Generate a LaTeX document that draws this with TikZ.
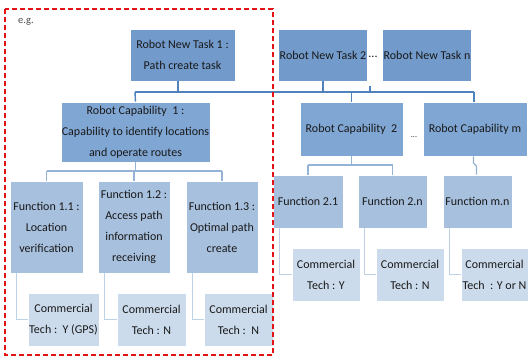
\documentclass[tikz,border=0pt]{standalone}
\usepackage{fontspec}
\setmainfont{Carlito}
\definecolor{taskc}{RGB}{114,155,204}
\definecolor{capc}{RGB}{128,166,212}
\definecolor{func}{RGB}{167,192,222}
\definecolor{comc}{RGB}{204,219,236}
\definecolor{line1}{RGB}{79,129,189}
\definecolor{line2}{RGB}{149,179,215}
\definecolor{line3}{RGB}{190,208,230}
\definecolor{egred}{rgb}{0.9,0.08,0.08}
\begin{document}
\begin{tikzpicture}[x=1pt,y=-1pt,
  every node/.style={font=\fontsize{12}{21}\selectfont, text=black!90, align=center, inner sep=1pt},
  base/.style={rectangle, draw=white, line width=0.6pt},
  taskbox/.style={base, fill=taskc},
  capbox/.style={base, fill=capc},
  funbox/.style={base, fill=func},
  combox/.style={base, fill=comc},
  l1/.style={draw=line1, line width=1.4pt},
  l2/.style={draw=line2, line width=1.4pt},
  l3/.style={draw=line3, line width=1.4pt},
  redbox/.style={color=egred, dash pattern=on 5pt off 3pt, line width=1.2pt}
]
\useasboundingbox (0,0) rectangle (528,357);
\fill[white] (0,0) rectangle (528,357);

\coordinate (busL) at (135,92);
\coordinate (busR) at (474,92);
\coordinate (dotsTop) at (370,86);

% Tasks
\node[taskbox, minimum width=105, minimum height=52] (t1) at (182.5,55) {Robot New Task 1 :\\Path create task};
\node[taskbox, minimum width=88, minimum height=52] (t2) at (323,55) {Robot New Task 2};
\node[inner sep=0pt] (tdots) at (373,57) {...};
\node[taskbox, minimum width=88, minimum height=52] (tn) at (427,55) {Robot New Task n};

% Capabilities
\node[capbox, minimum width=147, minimum height=60] (c1) at (135.5,132) {Robot Capability\ \ 1 :\\Capability to identify locations\\and operate routes};
\node[capbox, minimum width=103, minimum height=54] (c2) at (351.5,129) {Robot Capability\ \ 2};
\node[inner sep=0pt, font=\fontsize{8}{10}\selectfont] (cdots) at (414,137) {...};
\node[capbox, minimum width=104, minimum height=54] (cm) at (475,129) {Robot Capability m};

% Functions
\node[funbox, minimum width=73, minimum height=92] (f11) at (46.5,227) {Function 1.1 :\\Location\\verification};
\node[funbox, minimum width=72, minimum height=92] (f12) at (134,227) {Function 1.2 :\\Access path\\information\\receiving};
\node[funbox, minimum width=72, minimum height=92] (f13) at (222,227) {Function 1.3 :\\Optimal path\\create};
\node[funbox, minimum width=70, minimum height=53] (f21) at (308,201.5) {Function 2.1};
\node[funbox, minimum width=69, minimum height=53] (f2n) at (392.5,201.5) {Function 2.n};
\node[funbox, minimum width=69, minimum height=53] (fmn) at (477.5,201.5) {Function m.n};

% Commercial tech
\node[combox, minimum width=69, minimum height=53] (k11) at (63.5,319.5) {Commercial\\Tech :\ \ Y (GPS)};
\node[combox, minimum width=69, minimum height=53] (k12) at (151.5,319.5) {Commercial\\Tech : N};
\node[combox, minimum width=69, minimum height=53] (k13) at (238.5,319.5) {Commercial\\Tech :\ \ N};
\node[combox, minimum width=68, minimum height=53] (k21) at (326,274.5) {Commercial\\Tech : Y};
\node[combox, minimum width=68, minimum height=53] (k2n) at (410,274.5) {Commercial\\Tech : N};
\node[combox, minimum width=67, minimum height=53] (kmn) at (494.5,274.5) {Commercial\\Tech\ \ : Y or N};

% Level 1 bus
\draw[l1] (busL) -- (busR);
\draw[l1] ([xshift=-4.5pt]t1.south) -- ([xshift=-4.5pt]t1.south |- busL);
\draw[l1] (t2.south) -- (t2.south |- busL);
\draw[l1] (dotsTop) -- (dotsTop |- busL);
\draw[l1] (busL) -- (c1.north);
\draw[l1] (c2.north |- busL) -- (c2.north);
\draw[l1] (busR) -- (busR |- cm.north);

% Level 2 buses
\coordinate (b2) at (0,171);
\draw[l2] (c1.south) -- (c1.south |- b2);
\draw[l2] (f11.north |- b2) -- (f13.north |- b2);
\draw[l2] (f11.north |- b2) -- (f11.north);
\draw[l2] (f12.north |- b2) -- (f12.north);
\draw[l2] (f13.north |- b2) -- (f13.north);
\coordinate (b3) at (0,165);
\draw[l2] (c2.south) -- (c2.south |- b3);
\draw[l2] (f21.north |- b3) -- (f2n.north |- b3);
\draw[l2] (f21.north |- b3) -- (f21.north);
\draw[l2] (f2n.north |- b3) -- (f2n.north);
\draw[l2] ([xshift=-1.5pt]cm.south) -- ([xshift=-1.5pt]cm.south |- 0,163) -- ([xshift=1.5pt]cm.south |- 0,166) -- ([xshift=1.5pt]cm.south |- fmn.north);

% Commercial connectors
\draw[l3] ([xshift=7pt]f11.south west) |- (k11.west);
\draw[l3] ([xshift=7pt]f12.south west) |- (k12.west);
\draw[l3] ([xshift=7pt]f13.south west) |- (k13.west);
\draw[l3] ([xshift=7pt]f21.south west) |- (k21.west);
\draw[l3] ([xshift=7pt]f2n.south west) |- (k2n.west);
\draw[l3] ([xshift=7pt]fmn.south west) |- (kmn.west);

% example frame
\coordinate (rtl) at (5,9);
\coordinate (rbr) at (273,355);
\draw[redbox] (rtl) rectangle (rbr);
\node[font=\fontsize{10.5}{12}\selectfont, text=black!70, anchor=west] (eg) at (17,22) {e.g.};
\end{tikzpicture}
\end{document}
